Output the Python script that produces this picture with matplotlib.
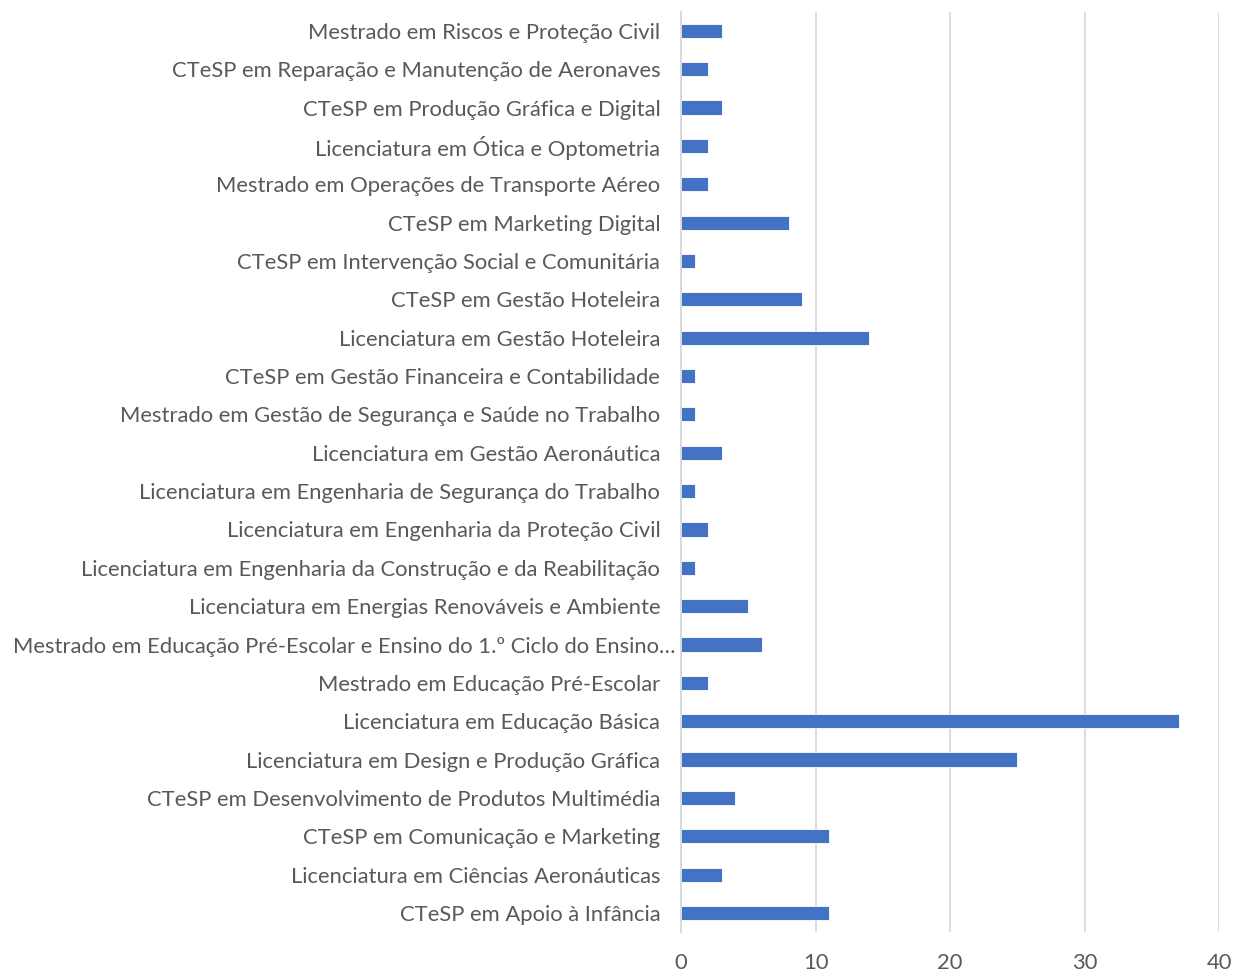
'''horizontal bar chart of students per course'''
import matplotlib
matplotlib.use('Agg')
import matplotlib.pyplot as plt
import matplotlib.transforms as mtransforms

# courses from top to bottom as they appear in the chart
courses = [
    'Mestrado em Riscos e Proteção Civil',
    'CTeSP em Reparação e Manutenção de Aeronaves',
    'CTeSP em Produção Gráfica e Digital',
    'Licenciatura em Ótica e Optometria',
    'Mestrado em Operações de Transporte Aéreo',
    'CTeSP em Marketing Digital',
    'CTeSP em Intervenção Social e Comunitária',
    'CTeSP em Gestão Hoteleira',
    'Licenciatura em Gestão Hoteleira',
    'CTeSP em Gestão Financeira e Contabilidade',
    'Mestrado em Gestão de Segurança e Saúde no Trabalho',
    'Licenciatura em Gestão Aeronáutica',
    'Licenciatura em Engenharia de Segurança do Trabalho',
    'Licenciatura em Engenharia da Proteção Civil',
    'Licenciatura em Engenharia da Construção e da Reabilitação',
    'Licenciatura em Energias Renováveis e Ambiente',
    'Mestrado em Educação Pré-Escolar e Ensino do 1.º Ciclo do Ensino…',
    'Mestrado em Educação Pré-Escolar',
    'Licenciatura em Educação Básica',
    'Licenciatura em Design e Produção Gráfica',
    'CTeSP em Desenvolvimento de Produtos Multimédia',
    'CTeSP em Comunicação e Marketing',
    'Licenciatura em Ciências Aeronáuticas',
    'CTeSP em Apoio à Infância',
]
counts = [3, 2, 3, 2, 2, 8, 1, 9, 14, 1, 1, 3, 1, 2, 1, 5, 6, 2, 37, 25, 4, 11, 3, 11]
x_ticks = [0, 10, 20, 30, 40]

plt.rcParams['font.family'] = ['Lato', 'DejaVu Sans']
text_col = '#595959'

fig = plt.figure(figsize=(12.34, 9.71), dpi=100)
ax = fig.add_axes([0.552, 0.040, 0.436, 0.948])

pos = list(range(len(courses)))[::-1]
ax.barh(pos, counts, height=0.37, color='#4472C4', edgecolor='white',
        linewidth=0.6, zorder=3)

ax.set_xlim(0, 40)
ax.set_ylim(-0.5, len(courses) - 0.5)
ax.set_xticks(x_ticks)
ax.set_xticklabels([str(t) for t in x_ticks])
ax.set_yticks(pos)
ax.set_yticklabels(courses)

ax.grid(axis='x', color='#d9d9d9', linewidth=1.3, zorder=0)
for s in ['top', 'right', 'bottom']:
    ax.spines[s].set_visible(False)
ax.spines['left'].set_color('#d9d9d9')
ax.spines['left'].set_linewidth(1.3)
ax.spines['left'].set_zorder(4)

ax.tick_params(axis='both', length=0, labelsize=15.8, labelcolor=text_col)
ax.tick_params(axis='y', pad=15)
ax.tick_params(axis='x', pad=15)

# the truncated label sticks out past the others, as in the original
shift = mtransforms.ScaledTranslation(0.15, 0, fig.dpi_scale_trans)
for lbl in ax.get_yticklabels():
    if lbl.get_text().endswith('…'):
        lbl.set_transform(lbl.get_transform() + shift)

fig.savefig('out.png', dpi=100)
